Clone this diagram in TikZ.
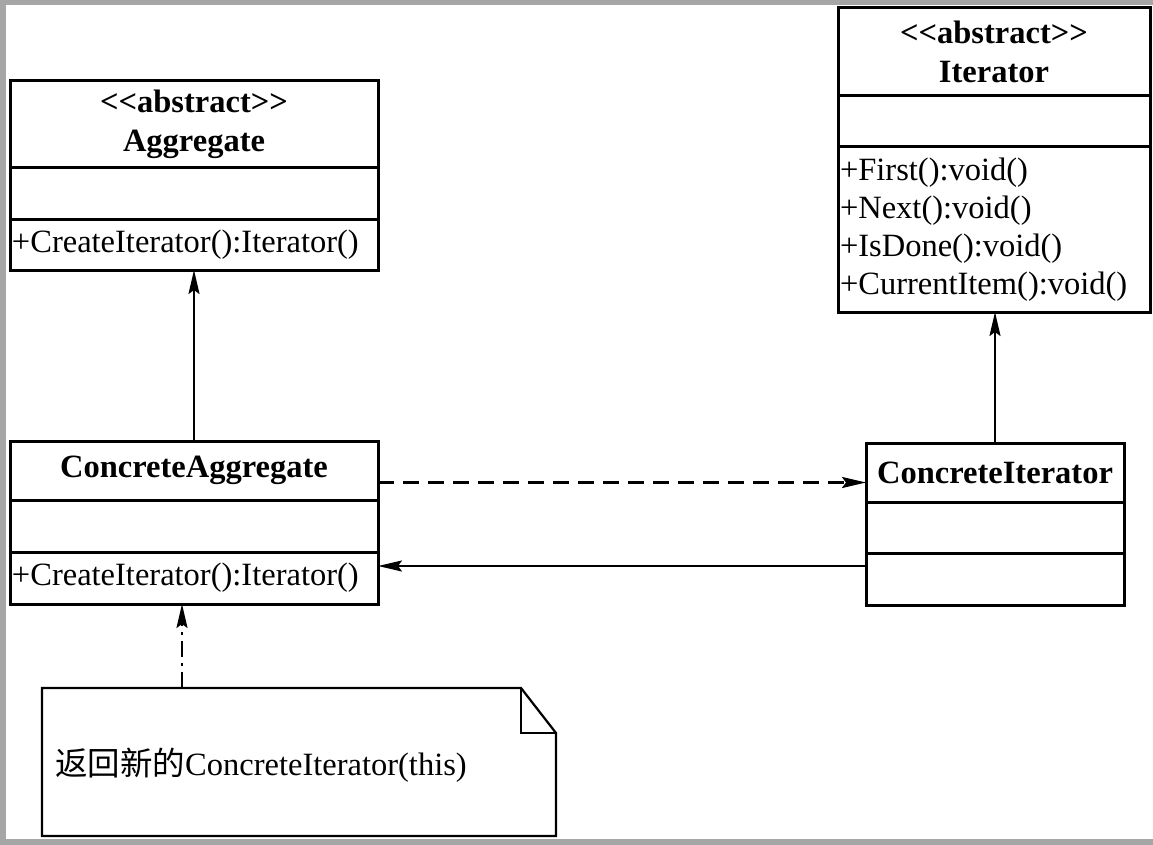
\documentclass[tikz,border=0pt]{standalone}
\usepackage{fontspec}
\setmainfont{Liberation Serif}
\newfontfamily\chino{Noto Sans CJK SC}
\usetikzlibrary{positioning,arrows.meta}

\tikzset{
  titulo/.style={draw, line width=3pt, outer sep=0pt, inner sep=0pt, align=center,
    minimum width=#1, font=\bfseries\fontsize{32.5}{39}\selectfont},
  vacio/.style={draw, line width=3pt, outer sep=0pt, inner sep=0pt, minimum width=#1},
  metodos/.style={draw, line width=3pt, outer sep=0pt, inner xsep=2pt, inner ysep=0pt,
    align=left, text width=#1, font=\fontsize{32.5}{38}\selectfont},
  flecha/.style={line width=2.2pt, -{Stealth[length=24pt,width=11pt,inset=4pt]}},
  depende/.style={flecha, line width=2.6pt, dash pattern=on 16pt off 9pt},
  enlace/.style={flecha, dash pattern=on 16pt off 6pt on 3pt off 6pt}
}

\begin{document}
\begin{tikzpicture}[x=1pt, y=-1pt]
    % Fondo
    \useasboundingbox (0,0) rectangle (1153,845);
    \fill[white] (0,0) rectangle (1153,845);
    \fill[gray!70] (0,0) rectangle (6,845);
    \fill[gray!70] (0,0) rectangle (1153,5);
    \fill[gray!70] (0,839) rectangle (1153,845);
    % Aggregate
    \node[titulo=368pt, minimum height=87pt, anchor=north west] (aggtit) at (10,81)
        {<\kern0pt<abstract>\kern0pt>\\Aggregate};
    \node[vacio=368pt, minimum height=51pt, below=0pt of aggtit] (aggatr) {};
    \node[metodos=364pt, minimum height=51pt, below=0pt of aggatr] (aggmet)
        {+CreateIterator():Iterator()};
    % Iterator
    \node[titulo=312pt, minimum height=88pt, anchor=north west] (itertit) at (838,8)
        {<\kern0pt<abstract>\kern0pt>\\Iterator};
    \node[vacio=312pt, minimum height=51pt, below=0pt of itertit] (iteratr) {};
    \node[metodos=308pt, minimum height=165pt, below=0pt of iteratr] (itermet)
        {+First():void()\\+Next():void()\\+IsDone():void()\\+CurrentItem():void()};
    % ConcreteAggregate
    \node[titulo=368pt, minimum height=59pt, anchor=north west] (cagtit) at (10,441)
        {ConcreteAggregate};
    \node[vacio=368pt, minimum height=52pt, below=0pt of cagtit] (cagatr) {};
    \node[metodos=364pt, minimum height=52pt, below=0pt of cagatr] (cagmet)
        {+CreateIterator():Iterator()};
    % ConcreteIterator
    \node[titulo=258pt, minimum height=59pt, anchor=north west] (cittit) at (866,443)
        {ConcreteIterator};
    \node[vacio=258pt, minimum height=51pt, below=0pt of cittit] (citatr) {};
    \node[vacio=258pt, minimum height=52pt, below=0pt of citatr] (citmet) {};
    % Nota
    \draw[line width=2.2pt] (42,688) -- (521,688) -- (556,733) -- (556,836) -- (42,836) -- cycle;
    \draw[line width=2.2pt] (521,688) -- (521,733) -- (556,733);
    \node[anchor=base west, inner sep=0pt, font=\fontsize{32.5}{38}\selectfont] (notatxt) at (55,775)
        {{\chino 返回新的}ConcreteIterator(this)};
    \coordinate (nota) at (182,688);
    % Herencia
    \draw[flecha] (cagtit.north) -- (aggmet.south);
    \draw[flecha] (cittit.north) -- (cittit.north |- itermet.south);
    % Asociaciones
    \draw[depende] ([yshift=-12pt]cagtit.east) -- ([yshift=-12pt]cagtit.east -| cittit.west);
    \draw[flecha] ([yshift=13pt]citmet.west) -- ([yshift=13pt]citmet.west -| cagmet.east);
    \draw[enlace] (nota) -- (nota |- cagmet.south);
\end{tikzpicture}
\end{document}
